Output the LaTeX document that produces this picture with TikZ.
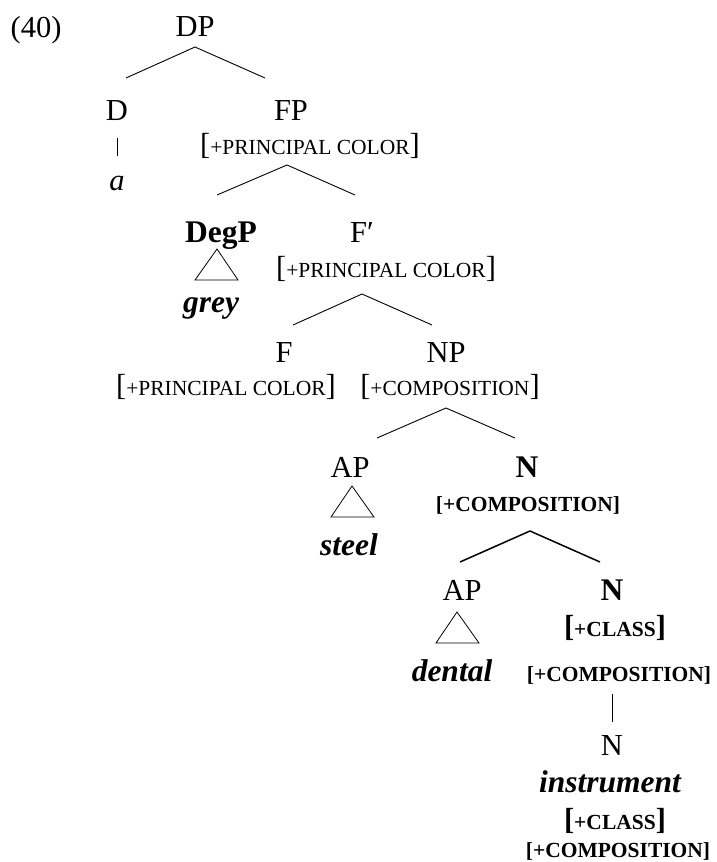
\documentclass[tikz,border=0pt]{standalone}
\usepackage{fontspec}
\setmainfont{Liberation Serif}
\newcommand\mainsz{\fontsize{30.5}{33}\selectfont}
\newcommand\bigsz{\fontsize{31.5}{34}\selectfont}
\newcommand\scsz{\fontsize{21.5}{24}\selectfont}
\newcommand\featA[1]{{\mainsz[}{\scsz+#1}{\mainsz]}}
\newcommand\featB[1]{{\bfseries\scsz[+#1]}}
\newcommand\featC[1]{{\bfseries\mainsz[}{\bfseries\scsz+#1}{\bfseries\mainsz]}}
\begin{document}
\begin{tikzpicture}[x=1pt,y=-1pt,
  lbl/.style={anchor=base,inner sep=0pt,font=\mainsz},
  ital/.style={lbl,font=\mainsz\itshape},
  boldital/.style={lbl,font=\bigsz\bfseries\itshape},
  bld/.style={lbl,font=\bigsz\bfseries},
  branch/.style={line width=0.9pt},
  branchb/.style={line width=1.5pt},
  tri/.style={line width=0.8pt,line join=miter}]
\useasboundingbox (0,0) rectangle (717,862);
% labels
\node[lbl] (ex) at (36,37) {(40)};
\node[lbl] (DP) at (195,36) {DP};
\node[lbl] (D) at (117,120) {D};
\node[lbl] (FP) at (291,120) {FP};
\node[lbl] (FPf) at (310,154) {\featA{PRINCIPAL COLOR}};
\node[ital] (a) at (117,190) {a};
\node[bld] (DegP) at (221,242) {DegP};
\node[lbl] (Fbar) at (362,242) {F′};
\node[lbl] (Fbarf) at (386,277) {\featA{PRINCIPAL COLOR}};
\node[boldital] (grey) at (211,312) {grey};
\node[lbl] (F) at (284,362) {F};
\node[lbl] (NP) at (446,362) {NP};
\node[lbl] (Ff) at (226,395) {\featA{PRINCIPAL COLOR}};
\node[lbl] (NPf) at (450,395) {\featA{COMPOSITION}};
\node[lbl] (AP1) at (350,477) {AP};
\node[bld] (N1) at (527,477) {N};
\node[lbl] (N1f) at (528,511) {\featB{COMPOSITION}};
\node[boldital] (steel) at (349,555) {steel};
\node[lbl] (AP2) at (462,600) {AP};
\node[bld] (N2) at (612,600) {N};
\node[lbl] (N2fa) at (615,636) {\featC{CLASS}};
\node[boldital] (dental) at (452,681) {dental};
\node[lbl] (N2fb) at (619,681) {\featB{COMPOSITION}};
\node[lbl] (N3) at (612,755) {N};
\node[boldital] (instr) at (610,792) {instrument};
\node[lbl] (N3fa) at (615,829) {\featC{CLASS}};
\node[lbl] (N3fb) at (618,857) {\featB{COMPOSITION}};
% branch points
\coordinate (DPb) at (195,47);  \coordinate (Dt) at (126,78);  \coordinate (FPt) at (265,78);
\coordinate (FPb) at (287,165); \coordinate (DegPt) at (217,195); \coordinate (Fbart) at (355,195);
\coordinate (Fbarb) at (362,294); \coordinate (Ft) at (293,325); \coordinate (NPt) at (432,325);
\coordinate (NPb) at (446,408); \coordinate (AP1t) at (377,438); \coordinate (N1t) at (515,438);
\coordinate (N1b) at (530,531); \coordinate (AP2t) at (460,562); \coordinate (N2t) at (600,562);
\coordinate (Db) at (117,138); \coordinate (at) at (117,156);
\coordinate (N2b) at (612,694); \coordinate (N3t) at (612,722);
\draw[branch] (Dt) -- (DPb) -- (FPt);
\draw[branch] (DegPt) -- (FPb) -- (Fbart);
\draw[branch] (Ft) -- (Fbarb) -- (NPt);
\draw[branch] (AP1t) -- (NPb) -- (N1t);
\draw[branchb] (AP2t) -- (N1b) -- (N2t);
\draw[branch] (Db) -- (at);
\draw[branch] (N2b) -- (N3t);
% triangles
\coordinate (t1a) at (217,249); \coordinate (t1b) at (195,280); \coordinate (t1c) at (238,280);
\coordinate (t2a) at (352,486); \coordinate (t2b) at (331,517); \coordinate (t2c) at (374,517);
\coordinate (t3a) at (457,612); \coordinate (t3b) at (436,643); \coordinate (t3c) at (479,643);
\draw[tri] (t1a) -- (t1b) -- (t1c) -- cycle;
\draw[tri] (t2a) -- (t2b) -- (t2c) -- cycle;
\draw[tri] (t3a) -- (t3b) -- (t3c) -- cycle;
\end{tikzpicture}
\end{document}
